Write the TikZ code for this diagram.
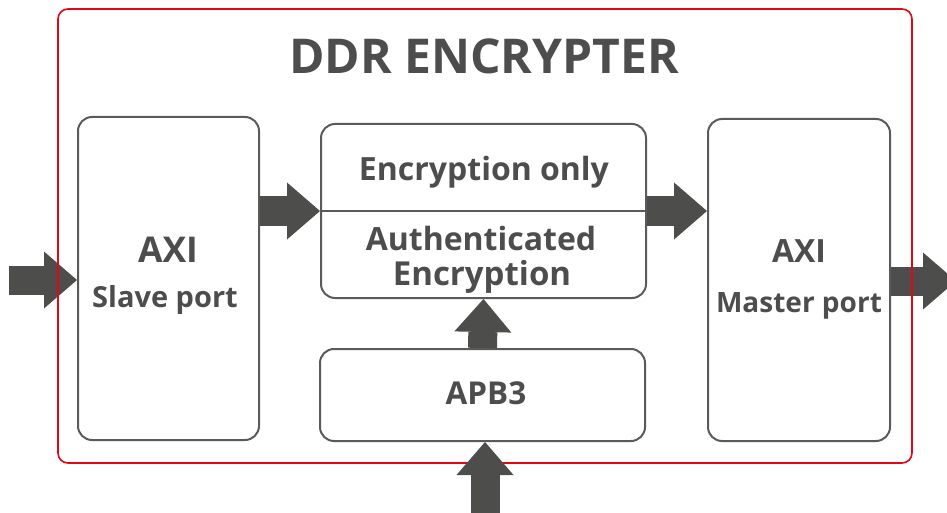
\documentclass[tikz,border=0pt]{standalone}
\usepackage{fontspec}
\setmainfont{Open Sans}
\usetikzlibrary{arrows.meta, positioning}

\definecolor{framered}{HTML}{E30613}
\definecolor{boxgray}{HTML}{5A5A5A}
\definecolor{textgray}{HTML}{4D4D4D}
\definecolor{arrowgray}{HTML}{4D4D4B}

\tikzset{
  block/.style={draw=boxgray, line width=2pt, rounded corners=14pt, fill=white, inner sep=0pt},
  fat/.style={draw=arrowgray, line width=29pt, -{Triangle[length=33pt, width=57pt, line width=0pt]}},
  lbl/.style={text=textgray, font=\bfseries, anchor=base, inner sep=0pt},
}
\newcommand{\fs}[1]{\fontsize{#1}{#1}\selectfont}

\begin{document}
\begin{tikzpicture}[x=1pt, y=-1pt]
  \useasboundingbox (0,0) rectangle (947,513);

  % blocks
  \node[block, minimum width=181pt, minimum height=323pt] (slave) at (168.5,278.5) {};
  \node[block, minimum width=182pt, minimum height=322pt] (master) at (799,280) {};
  \node[block, minimum width=325pt, minimum height=174pt] (enc) at (483.5,211) {};
  \node[block, minimum width=325pt, minimum height=92pt] (apb) at (482.5,395) {};
  \draw[boxgray, line width=2pt] (enc.west) -- (enc.east);

  % ports outside
  \coordinate (inL) at (9,280);
  \coordinate (outR) at (956,281);
  \coordinate (inB) at (485,520);
  \draw[fat] (inL) -- (slave.west |- inL);
  \draw[fat] (master.east |- outR) -- (outR);

  % frame
  \draw[framered, line width=1.6pt, rounded corners=10pt] (58,9) rectangle (912,463);

  % arrows between blocks
  \draw[fat] (slave.east |- enc.west) -- (enc.west);
  \draw[fat] (enc.east) -- (master.west |- enc.east);
  \draw[fat] (apb.north) -- (enc.south);
  \draw[fat] (inB) -- (apb.south -| inB);

  % texts
  \node[lbl, font=\fs{48}\bfseries] (title) at (484,74) {DDR ENCRYPTER};
  \node[lbl, font=\fs{35.5}\bfseries] (saxi) at (168,262) {AXI};
  \node[lbl, font=\fs{29}\bfseries] (sport) at (165,307) {Slave port};
  \node[lbl, font=\fs{32}\bfseries] (maxi) at (799,262) {AXI};
  \node[lbl, font=\fs{28}\bfseries] (mport) at (799,312) {Master port};
  \node[lbl, font=\fs{32}\bfseries] (eonly) at (484,181) {Encryption only};
  \node[lbl, font=\fs{32}\bfseries] (auth) at (481,250) {Authenticated};
  \node[lbl, font=\fs{33}\bfseries] (aenc) at (482,285) {Encryption};
  \node[lbl, font=\fs{31.5}\bfseries] (apbt) at (486,404) {APB3};
\end{tikzpicture}
\end{document}
